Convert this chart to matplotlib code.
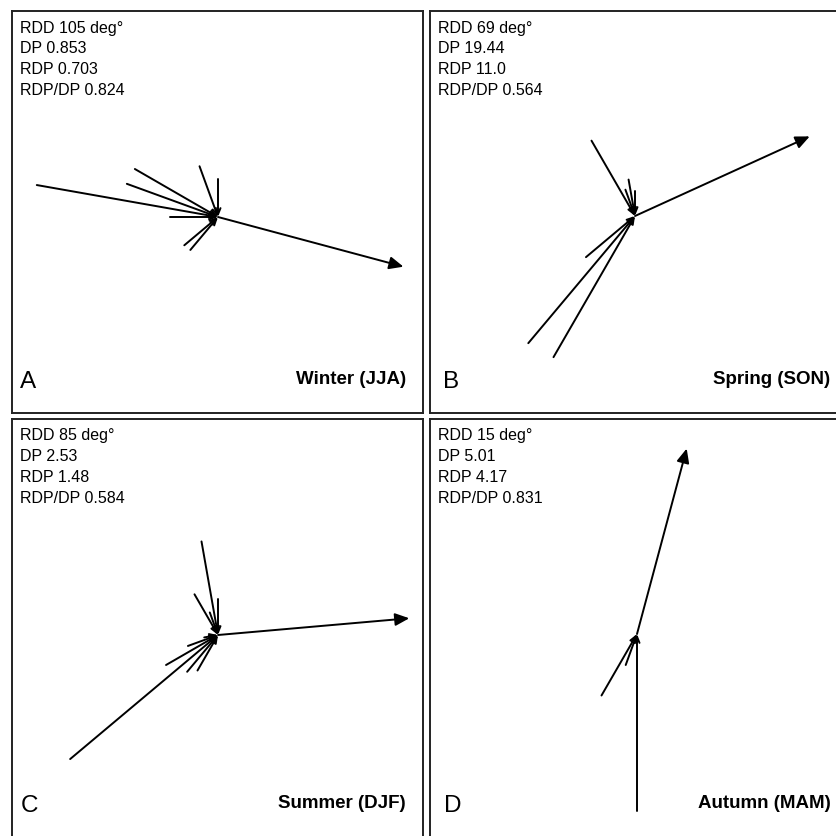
import numpy as np
import matplotlib
matplotlib.use("Agg")
import matplotlib.pyplot as plt

plt.rcParams['font.family'] = ['Liberation Sans', 'DejaVu Sans']

# ---------------- data ----------------
panel_letters = ["A", "B", "C", "D"]
season_labels = ["Winter (JJA)", "Spring (SON)", "Summer (DJF)", "Autumn (MAM)"]
rdd = [105, 69, 85, 15]
# direction of the resultant arrow as drawn (deg)
rdd_drawn = [105, 65.5, 85, 15]
dp = ["0.853", "19.44", "2.53", "5.01"]
rdp = ["0.703", "11.0", "1.48", "4.17"]
rdp_dp = ["0.824", "0.564", "0.584", "0.831"]

# arm directions (deg, direction wind comes from) and relative arm lengths
winter_dirs = [220, 230, 270, 280, 290, 300, 340, 360]
winter_lens = [43, 44, 48, 184, 97, 96, 54, 38]
spring_dirs = [210, 220, 230, 330, 340, 350, 360]
spring_lens = [163, 166, 64, 87, 28, 37, 25]
summer_dirs = [210, 220, 230, 240, 250, 260, 330, 340, 350, 360]
summer_lens = [41, 48, 193, 60, 32, 14, 47, 24, 95, 36]
autumn_dirs = [180, 200, 210]
autumn_lens = [177, 33, 71]

arm_dirs = [winter_dirs, spring_dirs, summer_dirs, autumn_dirs]
arm_lens = [winter_lens, spring_lens, summer_lens, autumn_lens]

# ---------------- layout (pixels) ----------------
W = H = 837
fig = plt.figure(figsize=(W / 100, H / 100), dpi=100)

# panel boxes: left, top, right, bottom ; centre of rose (x, y)
boxes = [(12, 12, 423, 414), (430, 12, 845, 414),
         (12, 420, 423, 845), (430, 420, 845, 845)]
centres = [(218, 218), (635, 217), (218, 636), (637, 635)]
letter_x = [20, 443, 21, 444]
label_right = [406, 830, 406, 831]
RES_LEN = 192


def fx(x):
    return x / W


def fy(y):
    return 1 - y / H


for i in range(4):
    l, t, r, b = boxes[i]
    cx, cy = centres[i]
    ax = fig.add_axes([fx(l), fy(b), (r - l) / W, (b - t) / H])
    ax.set_xlim(l - cx, r - cx)
    ax.set_ylim(-(b - cy), cy - t)
    ax.set_xticks([])
    ax.set_yticks([])
    for s in ax.spines.values():
        s.set_linewidth(1.4)
        s.set_color('#222222')

    # arms (pointing toward the centre)
    for d, L in zip(arm_dirs[i], arm_lens[i]):
        th = np.deg2rad(d)
        ex, ey = L * np.sin(th), L * np.cos(th)
        ax.annotate('', xy=(0, 0), xytext=(ex, ey),
                    arrowprops=dict(arrowstyle='->,head_length=0.45,head_width=0.18',
                                    lw=1.4, color='black', shrinkA=0, shrinkB=0,
                                    mutation_scale=10))
    # resultant arrow
    th = np.deg2rad(rdd_drawn[i])
    ax.annotate('', xy=(RES_LEN * np.sin(th), RES_LEN * np.cos(th)), xytext=(0, 0),
                arrowprops=dict(arrowstyle='-|>,head_length=0.85,head_width=0.38',
                                lw=1.4, color='black', shrinkA=0, shrinkB=0,
                                mutation_scale=10))

    # stats text
    lines = [f"RDD {rdd[i]} deg\u00b0", f"DP {dp[i]}", f"RDP {rdp[i]}", f"RDP/DP {rdp_dp[i]}"]
    for k, s in enumerate(lines):
        fig.text(fx(l + 8.5), fy(t + 20.5 + 20.7 * k), s, fontsize=11.5,
                 ha='left', va='baseline', color='black')

    # panel letter and season label
    base = t + 376 if i < 2 else t + 392
    fig.text(fx(letter_x[i]), fy(base), panel_letters[i], fontsize=17.5,
             ha='left', va='baseline', color='black')
    fig.text(fx(label_right[i]), fy(base - 4), season_labels[i], fontsize=13.5,
             fontweight='bold', ha='right', va='baseline', color='black')

fig.savefig("out.png", dpi=100)
